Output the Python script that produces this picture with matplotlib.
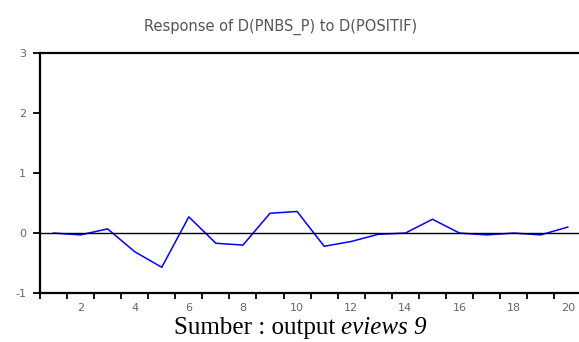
import numpy as np
from matplotlib import pyplot as plt

# periode dan respon impuls
periode = np.arange(1, 21)
respon = [0.0, -0.03, 0.07, -0.31, -0.57, 0.27, -0.17, -0.20, 0.33, 0.36,
          -0.22, -0.14, -0.02, 0.0, 0.23, 0.0, -0.03, 0.0, -0.03, 0.10]
label_x = [2, 4, 6, 8, 10, 12, 14, 16, 18, 20]
label_y = [-1, 0, 1, 2, 3]

fig = plt.figure(figsize=(5.79, 3.42), dpi=100)
ax = fig.add_axes([0.069, 0.143, 0.935, 0.702])

ax.plot(periode, respon, color="#0000ff", linewidth=1.1)
ax.axhline(0, color="black", linewidth=1.0)

ax.set_xlim(0.5, 20.5)
ax.set_ylim(-1, 3)

# tick di batas periode, label di angka genap
ax.set_xticks(np.arange(0.5, 21, 1.0))
ax.set_xticklabels([])
ax.set_xticks(label_x, minor=True)
ax.set_xticklabels([str(v) for v in label_x], minor=True)
ax.tick_params(axis="x", which="minor", length=0, pad=7)
ax.tick_params(axis="x", which="major", direction="out", length=4, width=1.3)

ax.set_yticks(label_y)
ax.set_yticklabels([str(v) for v in label_y])
ax.tick_params(axis="y", direction="out", length=5, width=1.3, pad=5)

for lbl in ax.get_xticklabels(minor=True) + ax.get_yticklabels():
    lbl.set_fontsize(8)
    lbl.set_color("#666666")
    lbl.set_fontfamily("DejaVu Sans")

for s in ["left", "bottom", "top"]:
    ax.spines[s].set_linewidth(1.6)
ax.spines["right"].set_visible(False)

fig.text(0.484, 0.92, "Response of D(PNBS_P) to D(POSITIF)", ha="center",
         va="center", fontsize=10.5, color="#555555", family="DejaVu Sans")

fig.text(0.589, 0.042, "Sumber : output ", ha="right", va="center",
         fontsize=18, family="Liberation Serif")
fig.text(0.589, 0.042, "eviews 9", ha="left", va="center",
         fontsize=18, family="Liberation Serif", style="italic")

plt.savefig("out.png")
